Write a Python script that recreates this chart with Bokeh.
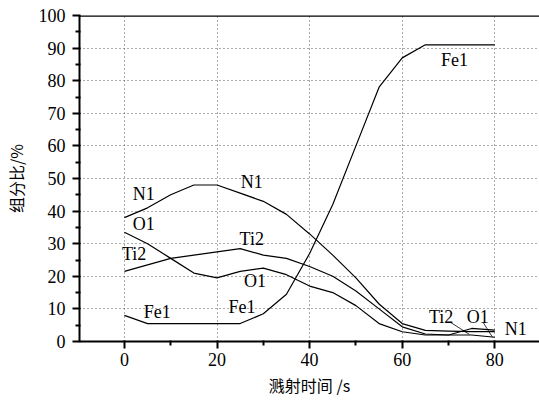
from bokeh.plotting import figure
from bokeh.models import FixedTicker, Span, Label, Range1d
from bokeh.embed import file_html
from bokeh.resources import INLINE

# data
time_s = [0, 5, 10, 15, 20, 25, 30, 35, 40, 45, 50, 55, 60, 65, 70, 75, 80]
n1 = [38, 41, 45, 48, 48, 45.5, 43, 39, 33, 26.5, 19.5, 11.5, 5.5, 3.4, 3.2, 3.0, 3.0]
ti2 = [21.5, 23.5, 25.5, 26.5, 27.5, 28.5, 26.5, 25.5, 23, 20, 15.5, 10, 4.5, 2.3, 2.0, 2.0, 1.3]
o1 = [33.5, 30, 25.5, 21, 19.5, 21.5, 22.5, 20.5, 17, 15, 11, 5.5, 3, 2.0, 2.0, 4.0, 3.5]
fe1 = [8, 5.5, 5.5, 5.5, 5.5, 5.5, 8.5, 14.5, 27, 42, 60, 78, 87, 91, 91, 91, 91]

x_ticks = [0, 20, 40, 60, 80]
x_minor = [10, 30, 50, 70]
y_ticks = [0, 10, 20, 30, 40, 50, 60, 70, 80, 90, 100]
y_minor = [5, 15, 25, 35, 45, 55, 65, 75, 85, 95]

# curve labels: (text, x, y)
label_text = ["N1", "O1", "Ti2", "Fe1", "N1", "Ti2", "O1", "Fe1", "Fe1", "Ti2", "O1", "N1"]
label_x = [4.2, 4.2, 2.1, 7.1, 27.5, 27.5, 28.2, 25.4, 71.3, 68.4, 76.3, 84.5]
label_y = [45.3, 36.0, 26.9, 9.0, 48.9, 31.5, 18.7, 10.5, 86.2, 7.5, 7.5, 3.9]

serif = "Liberation Serif, Times New Roman, serif"
cjk = "Noto Sans CJK SC"

p = figure(width=539, height=401, output_backend="svg", toolbar_location=None,
           x_range=Range1d(-9.7, 89.65), y_range=Range1d(0, 100),
           min_border_left=77, min_border_top=15, min_border_bottom=60, min_border_right=0)
p.outline_line_color = None
p.background_fill_color = "white"
p.border_fill_color = "white"

for ys in (n1, ti2, o1, fe1):
    p.line(time_s, ys, line_color="black", line_width=1.2)

# leader lines for small labels near the end
p.line([70.5, 74.5], [5.8, 2.2], line_color="black", line_width=0.8)
p.line([77.5, 79.5], [5.8, 1.3], line_color="black", line_width=0.8)

p.xaxis.ticker = FixedTicker(ticks=x_ticks, minor_ticks=x_minor)
p.yaxis.ticker = FixedTicker(ticks=y_ticks, minor_ticks=y_minor)
for ax in (p.xaxis[0], p.yaxis[0]):
    ax.axis_line_width = 2
    ax.axis_line_color = "black"
    ax.major_tick_line_color = "black"
    ax.major_tick_line_width = 2
    ax.minor_tick_line_color = "black"
    ax.minor_tick_line_width = 2
    ax.major_tick_out = 7
    ax.major_tick_in = 1
    ax.minor_tick_out = 4
    ax.minor_tick_in = 1
    ax.major_label_text_font = serif
    ax.major_label_text_font_size = "18px"
    ax.major_label_text_color = "black"
    ax.axis_label_text_font = cjk
    ax.axis_label_text_font_size = "16px"
    ax.axis_label_text_font_style = "normal"
    ax.axis_label_text_color = "black"
p.xaxis.axis_label = "溅射时间 /s"
p.yaxis.axis_label = "组分比/%"
p.xaxis.major_label_standoff = 4
p.yaxis.major_label_standoff = 7
p.xaxis.axis_label_standoff = 4
p.yaxis.axis_label_standoff = 8

p.xgrid.ticker = FixedTicker(ticks=x_ticks)
p.ygrid.ticker = FixedTicker(ticks=y_ticks[1:-1])
for g in (p.xgrid[0], p.ygrid[0]):
    g.grid_line_color = "#555555"
    g.grid_line_dash = "1 3"
    g.grid_line_width = 1

p.add_layout(Span(location=100, dimension="width", line_color="black", line_width=2.5))

for t, x, y in zip(label_text, label_x, label_y):
    p.add_layout(Label(x=x, y=y, text=t, text_font=serif, text_font_size="18px",
                       text_align="center", text_baseline="middle", text_color="black"))

open("out.html", "w").write(file_html(p, INLINE))
